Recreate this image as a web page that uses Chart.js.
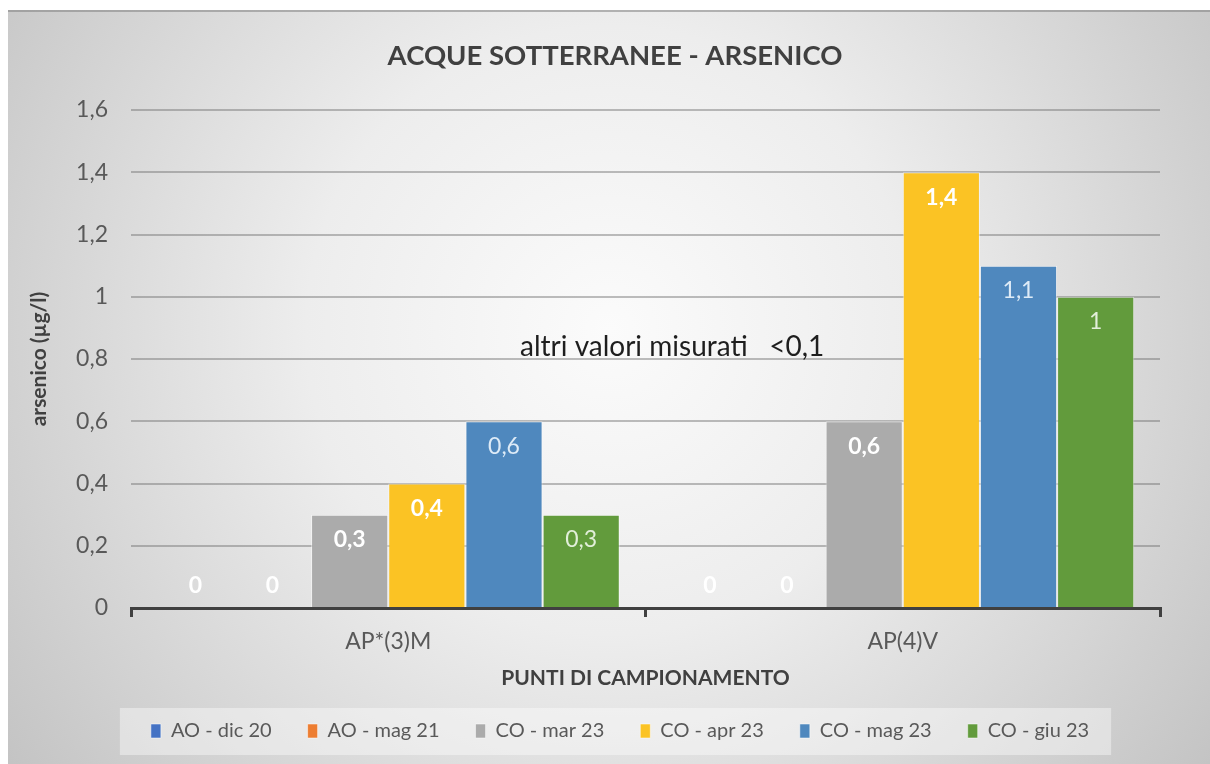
<!DOCTYPE html>
<html><head><meta charset="utf-8">
<script src="https://cdn.jsdelivr.net/npm/chart.js@4"></script>
<style>html,body{margin:0;padding:0;background:#fff;}</style>
</head><body>
<canvas id="c" width="1210" height="764"></canvas>
<script>
const categories = ['AP*(3)M', 'AP(4)V'];
const seriesNames = ['AO - dic 20', 'AO - mag 21', 'CO - mar 23', 'CO - apr 23', 'CO - mag 23', 'CO - giu 23'];
const aoDic20 = [0, 0];
const aoMag21 = [0, 0];
const coMar23 = [0.3, 0.6];
const coApr23 = [0.4, 1.4];
const coMag23 = [0.6, 1.1];
const coGiu23 = [0.3, 1.0];
const yMin = 0, yMax = 1.6, yStep = 0.2;
const noteText = 'altri valori misurati   <0,1';

const FONT = 'Lato, "Open Sans", sans-serif';
const colors = ['#4472c4', '#ed7d31', '#ababab', '#fbc324', '#4f88be', '#629b3c'];
const labelStyles = [
  {color: '#ffffff', weight: 'bold'},
  {color: '#ffffff', weight: 'bold'},
  {color: '#ffffff', weight: 'bold'},
  {color: '#ffffff', weight: 'bold'},
  {color: '#deebf7', weight: 'normal'},
  {color: '#e2efda', weight: 'normal'}
];
const fmt = v => String(Math.round(v * 10) / 10).replace('.', ',');

const seriesData = [aoDic20, aoMag21, coMar23, coApr23, coMag23, coGiu23];

const bgPlugin = {
  id: 'bg',
  afterLayout(chart) {
    chart.legend.left += 36; chart.legend.right += 36;
    chart.titleBlock.left += 31; chart.titleBlock.right += 31;
  },
  beforeDraw(chart) {
    const {ctx, width, height} = chart;
    ctx.save();
    ctx.fillStyle = '#ffffff';
    ctx.fillRect(0, 0, width, height);
    const g = ctx.createRadialGradient(610, 330, 0, 610, 330, 760);
    g.addColorStop(0, '#fbfbfb');
    g.addColorStop(0.4, '#ededed');
    g.addColorStop(1, '#c2c2c2');
    ctx.fillStyle = g;
    ctx.fillRect(8, 10, width - 8, height - 10);
    ctx.fillStyle = 'rgba(130,130,130,0.55)';
    ctx.fillRect(8, 10, width - 8, 2);
    const hb = chart.legend.legendHitBoxes;
    if (hb && hb.length) {
      const f = hb[0], l = hb[hb.length - 1];
      const x0 = f.left - 31, x1 = l.left + l.width + 22;
      const yc = f.top + f.height / 2;
      ctx.fillStyle = 'rgba(255,255,255,0.4)';
      ctx.fillRect(x0, yc - 23, x1 - x0, 47);
    }
    ctx.restore();
  }
};

const labelPlugin = {
  id: 'vlabels',
  afterDatasetsDraw(chart) {
    const ctx = chart.ctx;
    ctx.save();
    ctx.textAlign = 'center';
    ctx.textBaseline = 'middle';
    chart.data.datasets.forEach((ds, i) => {
      const meta = chart.getDatasetMeta(i);
      const st = labelStyles[i];
      meta.data.forEach((bar, j) => {
        const v = ds.data[j];
        const y = v === 0 ? bar.base - 22 : bar.y + 25;
        ctx.font = st.weight + ' 23px ' + FONT;
        ctx.fillStyle = st.color;
        ctx.fillText(fmt(v), bar.x, y);
      });
    });
    const ys = chart.scales.y;
    ctx.textAlign = 'left';
    ctx.font = 'normal 28px ' + FONT;
    ctx.fillStyle = '#1e1e1e';
    ctx.fillText(noteText, 520, ys.getPixelForValue(0.8) - 12);
    ctx.restore();
  }
};

new Chart(document.getElementById('c'), {
  type: 'bar',
  data: {
    labels: categories,
    datasets: seriesNames.map((name, i) => ({
      label: name,
      data: seriesData[i],
      backgroundColor: colors[i],
      borderColor: 'rgba(255,255,255,0.5)',
      borderWidth: 1,
      borderSkipped: 'bottom',
      categoryPercentage: 0.9,
      barPercentage: 1.0
    }))
  },
  options: {
    responsive: false,
    animation: false,
    devicePixelRatio: 1,
    layout: {padding: {top: 10, right: 50, bottom: 13, left: 8}},
    plugins: {
      tooltip: {enabled: false},
      title: {
        display: true,
        text: 'ACQUE SOTTERRANEE - ARSENICO',
        color: '#404040',
        font: {family: FONT, size: 27.5, weight: 'bold'},
        padding: {top: 29.5, bottom: 37.5}
      },
      legend: {
        position: 'bottom',
        labels: {
          boxWidth: 10, boxHeight: 14, padding: 36,
          color: '#595959',
          font: {family: FONT, size: 20}
        }
      }
    },
    scales: {
      x: {
        grid: {offset: true, drawOnChartArea: false, drawTicks: true, tickLength: 9, color: '#404040', lineWidth: 3},
        border: {display: true, color: '#404040', width: 3},
        ticks: {color: '#595959', font: {family: FONT, size: 23}, padding: 11},
        title: {display: true, text: 'PUNTI DI CAMPIONAMENTO', color: '#404040',
          font: {family: FONT, size: 21, weight: 'bold', lineHeight: 0.6}, padding: {top: 0, bottom: 0.7}},
        afterFit(s) { s.height = 77; }
      },
      y: {
        min: yMin, max: yMax,
        ticks: {stepSize: yStep, callback: v => fmt(v), color: '#595959', font: {family: FONT, size: 23}, padding: 23},
        grid: {color: 'rgba(110,110,110,0.45)', lineWidth: 2, drawTicks: false},
        border: {display: false},
        title: {display: true, text: 'arsenico (µg/l)', color: '#404040',
          font: {family: FONT, size: 21, weight: 'bold'}, padding: {top: 19, bottom: 0}},
        afterFit(s) { s.width = 123; }
      }
    }
  },
  plugins: [bgPlugin, labelPlugin]
});
</script>
</body></html>
